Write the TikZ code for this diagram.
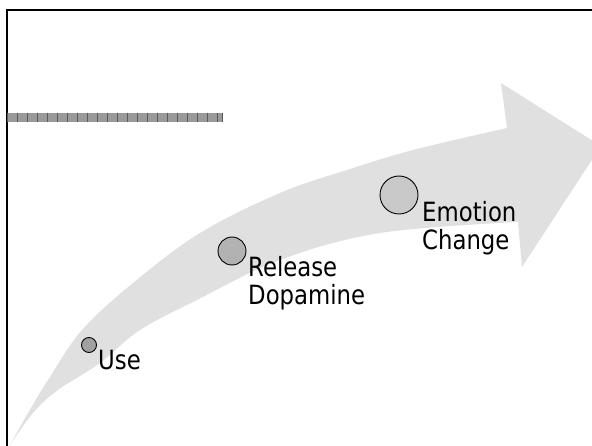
\documentclass[tikz,border=0pt]{standalone}
\usepackage{fontspec}
\setmainfont{DejaVu Sans}
\newfontfamily\labelfont{DejaVu Sans}[FakeStretch=0.86]
\begin{document}
\begin{tikzpicture}[x=1pt, y=-1pt,
    dot/.style={circle, draw=black, line width=0.9pt, inner sep=0pt},
    step label/.style={anchor=base west, inner sep=0pt, align=left,
        font=\labelfont\fontsize{26.5}{28}\selectfont}]
        \clip (0,0) rectangle (592,446);

        % curved arrow
        \fill[black!12] plot[smooth, tension=0.6] coordinates {(10,445) (28,413) (48,380) (82,330) (133,283) (200,233) (280,193) (347,170) (413,150) (507,128)}
            -- (501,83) -- (601,146) -- (522,267) -- (518,222)
            -- plot[smooth, tension=0.6] coordinates {(518,222) (380,233) (280,260) (197,300) (140,330) (100,363) (58,390) (33,413) (10,445)} -- cycle;

        % frame
        \draw[black, line width=2pt] (7,460) -- (7,10.5) -- (600,10.5);

        % bar
        \fill[black!40] (7,113) rectangle (223,122);
        \foreach \x in {7,17,27,37,47,57,67,77,87,97,107,117,127,137,147,157,167,177,187,197,207,217,222}
            \draw[black!65, line width=0.8pt] (\x,113) -- (\x,122);

        \node[dot, fill=black!37, minimum size=15pt] (use) at (89,345) {};
        \node[dot, fill=black!30, minimum size=28pt] (dopa) at (232,251) {};
        \node[dot, fill=black!21, minimum size=38pt] (emo) at (399,195) {};

        % multi-line labels sit on the baseline of their last line
        \node[step label] (uselabel) at (98,370) {Use};
        \node[step label] (dopalabel) at (248,305) {Release\\Dopamine};
        \node[step label] (emolabel) at (422,250) {Emotion\\Change};
    \end{tikzpicture}
\end{document}
